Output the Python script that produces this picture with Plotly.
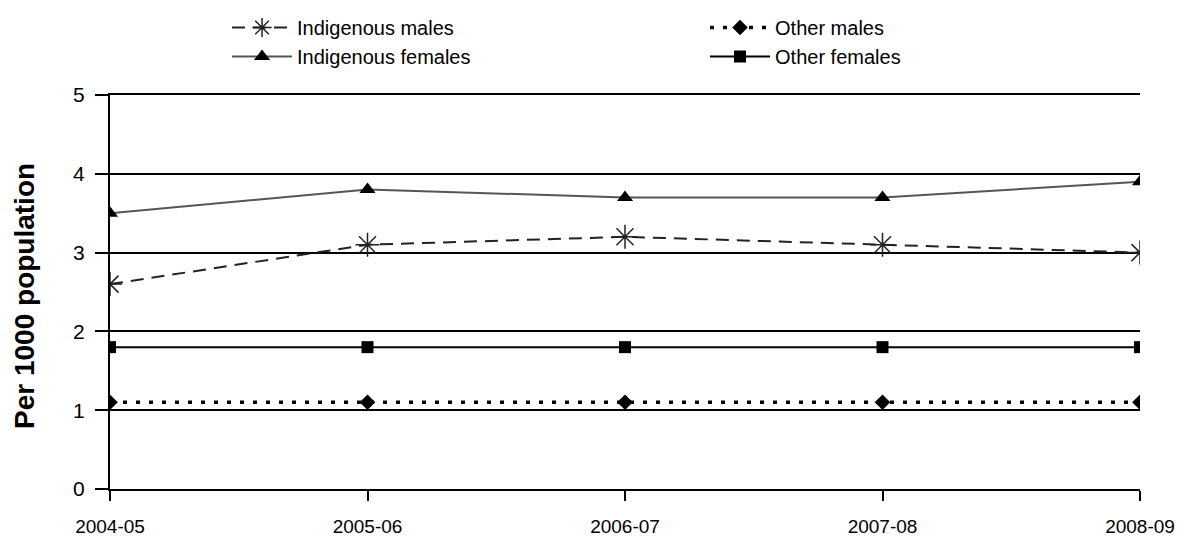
import plotly.graph_objects as go

years = ["2004-05", "2005-06", "2006-07", "2007-08", "2008-09"]
indigenous_males = [2.6, 3.1, 3.2, 3.1, 3.0]
other_males = [1.1, 1.1, 1.1, 1.1, 1.1]
indigenous_females = [3.5, 3.8, 3.7, 3.7, 3.9]
other_females = [1.8, 1.8, 1.8, 1.8, 1.8]

x = list(range(len(years)))
FONT = "Liberation Sans, Arial, sans-serif"

# page body has an 8px margin, so the figure is sized to fit the window
W, H = 1184, 534

fig = go.Figure()
fig.add_trace(go.Scatter(
    x=x, y=indigenous_males, name="Indigenous males", mode="lines+markers",
    line=dict(color="#222", width=2, dash="13px,8px"),
    marker=dict(symbol="asterisk-open", size=20, line=dict(color="#222", width=1.5)),
    legend="legend",
))
fig.add_trace(go.Scatter(
    x=x, y=indigenous_females, name="Indigenous females", mode="lines+markers",
    line=dict(color="#555", width=2),
    marker=dict(symbol="triangle-up", size=14, color="black"),
    legend="legend",
))
fig.add_trace(go.Scatter(
    x=x, y=other_males, name="Other males", mode="lines+markers",
    line=dict(color="black", width=3.5, dash="4px,9px"),
    marker=dict(symbol="diamond", size=12, color="black"),
    legend="legend2",
))
fig.add_trace(go.Scatter(
    x=x, y=other_females, name="Other females", mode="lines+markers",
    line=dict(color="black", width=2),
    marker=dict(symbol="square", size=12, color="black"),
    legend="legend2",
))

legend_common = dict(
    orientation="v", yanchor="top", xanchor="left", xref="container", yref="container",
    font=dict(family=FONT, size=20), itemwidth=60, tracegroupgap=0,
    bgcolor="rgba(0,0,0,0)",
)

fig.update_layout(
    width=W, height=H,
    margin=dict(l=102, r=52, t=87, b=53, autoexpand=False),
    plot_bgcolor="white", paper_bgcolor="white",
    font=dict(family=FONT, size=18, color="black"),
    showlegend=True,
    legend=dict(x=0.185, y=1.0, **legend_common),
    legend2=dict(x=0.5887, y=1.0, **legend_common),
    xaxis=dict(
        range=[0, 4], tickmode="array", tickvals=x, ticktext=years, tickangle=0,
        showgrid=False, zeroline=False, showline=True, linecolor="black", linewidth=2,
        mirror=True,
        ticks="outside", ticklen=10, tickwidth=1.5, tickcolor="black",
        ticklabelstandoff=9, tickfont=dict(size=19),
        automargin=False,
    ),
    yaxis=dict(
        range=[0, 5], tickvals=[0, 1, 2, 3, 4, 5],
        showgrid=True, gridcolor="black", gridwidth=2, zeroline=False,
        showline=True, linecolor="black", linewidth=2,
        ticks="outside", ticklen=13, tickwidth=2, tickcolor="black",
        ticklabelstandoff=6, tickfont=dict(size=21),
        automargin=False,
    ),
    annotations=[dict(
        text="<b>Per 1000 population</b>", textangle=-90,
        xref="paper", yref="paper", x=-0.0825, y=0.49,
        xanchor="center", yanchor="middle", showarrow=False,
        font=dict(family=FONT, size=28, color="black"),
    )],
)

fig.write_html("out.html")
